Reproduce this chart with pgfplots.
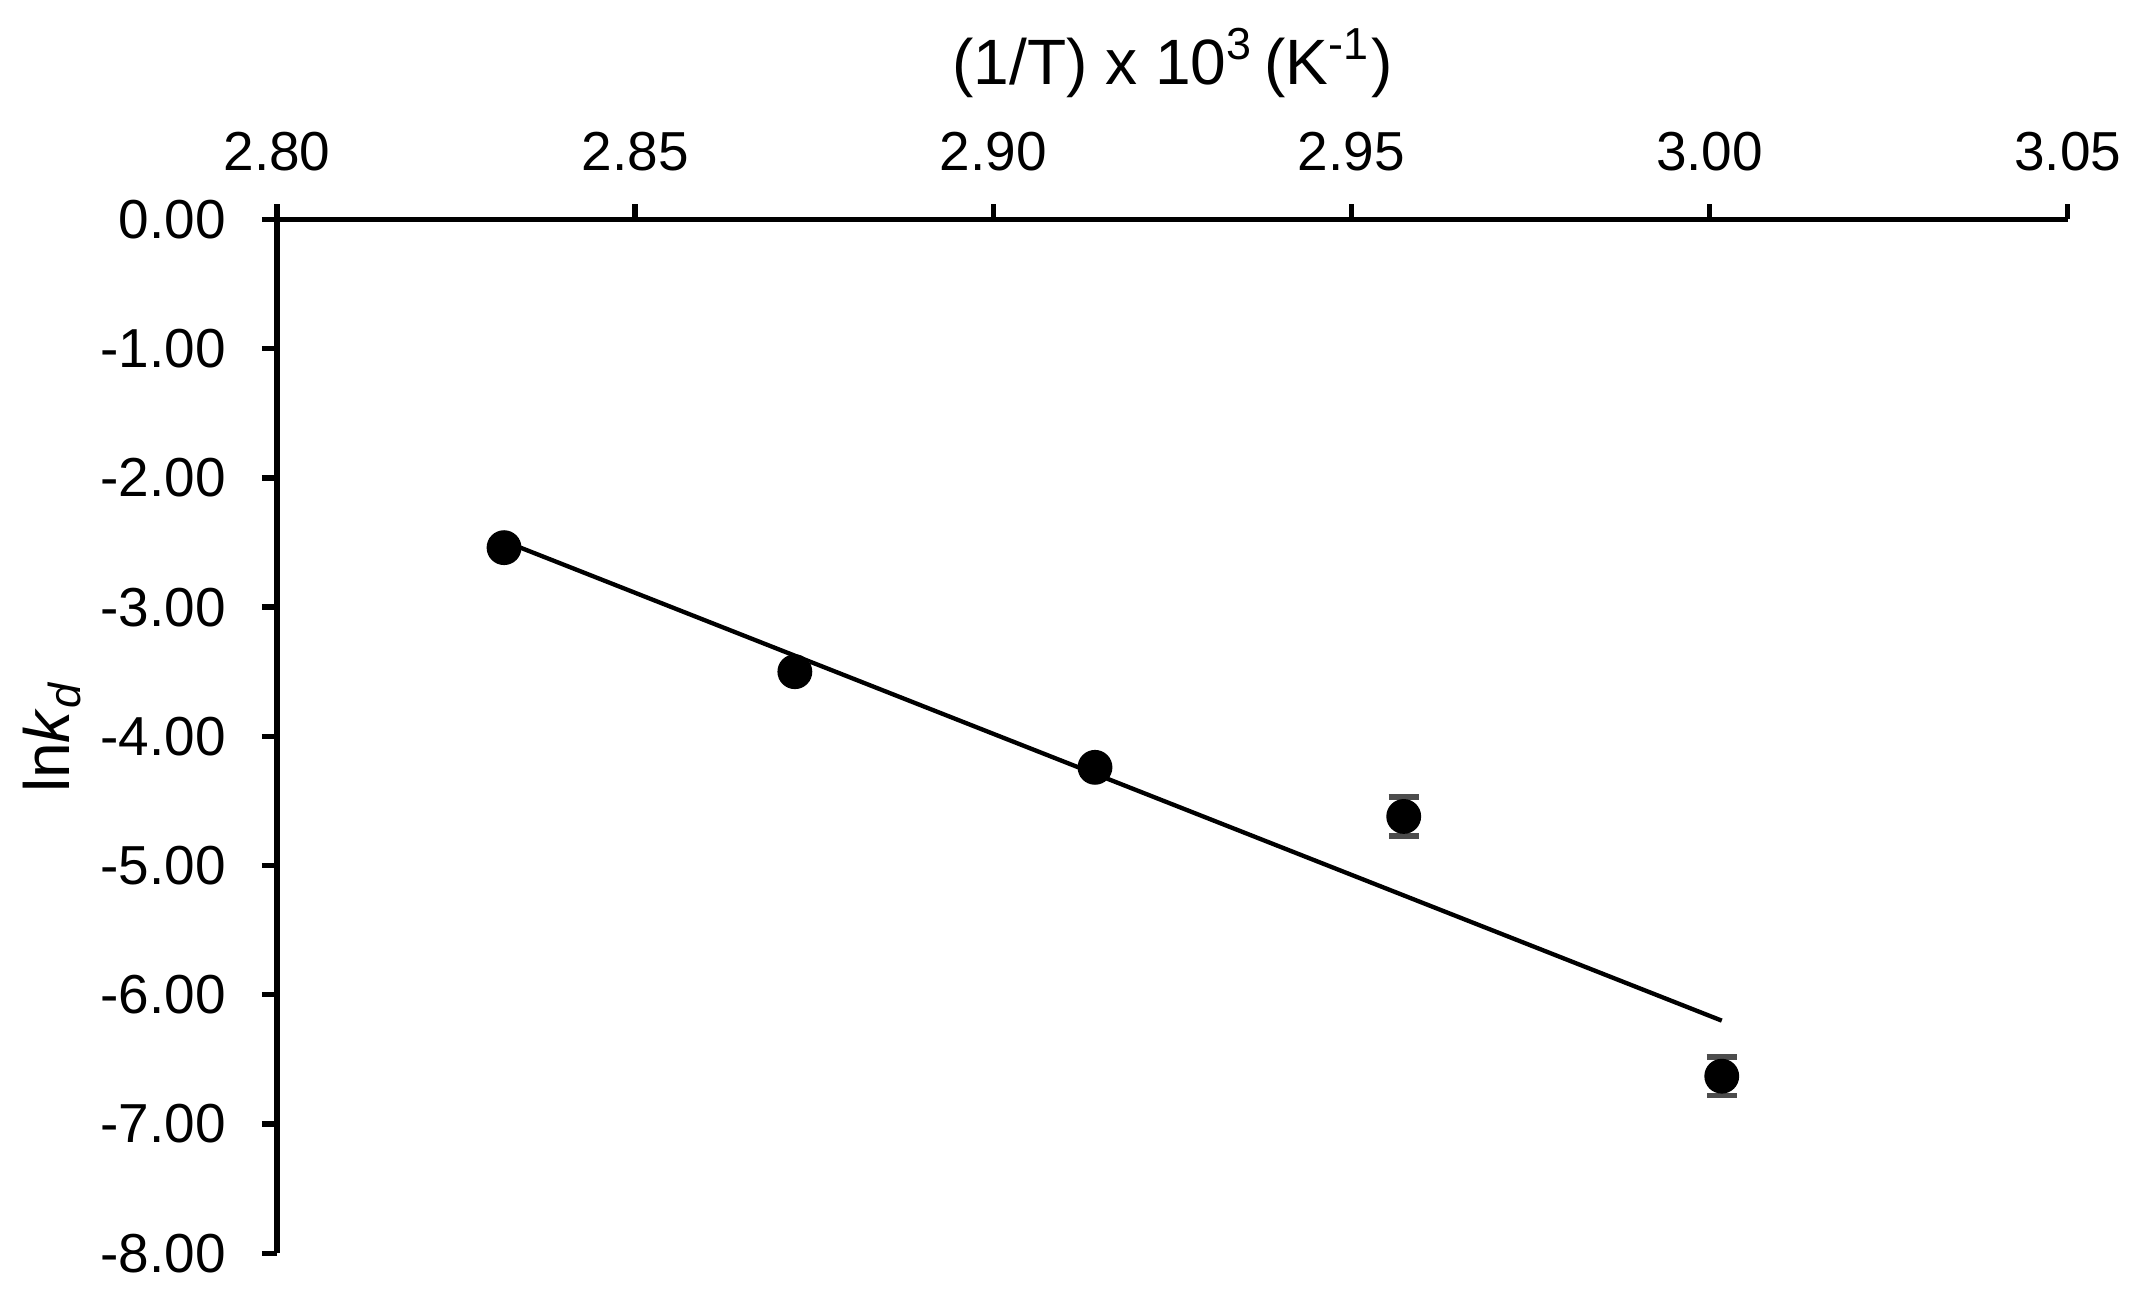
\documentclass[border=0pt]{standalone}
\usepackage{fontspec}
\setmainfont{Liberation Sans}
\usepackage{pgfplots}
\pgfplotsset{compat=1.18}
\begin{document}
\begin{tikzpicture}
\begin{axis}[
  at={(0,0)}, anchor=south west,
  scale only axis,
  width=13.06cm, height=7.54cm,
  xmin=2.80, xmax=3.05, ymin=-8, ymax=0,
  axis x line*=top, axis y line*=left,
  axis line style={line width=1.1pt},
  tick align=outside,
  major tick length=0.11cm,
  every tick/.style={black, line width=1.1pt},
  xtick={2.80,2.85,2.90,2.95,3.00,3.05},
  ytick={-8,-7,-6,-5,-4,-3,-2,-1,0},
  /pgf/number format/assume math mode=true,
  xticklabel style={yshift=0.12cm, /pgf/number format/.cd, fixed, fixed zerofill, precision=2},
  yticklabel style={xshift=-0.14cm, /pgf/number format/.cd, fixed, fixed zerofill, precision=2},
  tick label style={font=\fontsize{11.4}{13}\selectfont},
  label style={font=\fontsize{13.3}{15}\selectfont},
  xlabel={(1/T) x 10\textsuperscript{3}\,(K\textsuperscript{-1})},
  xlabel style={at={(axis description cs:0.5,1.151)}, anchor=center},
  ylabel={ln\textit{k}\textsubscript{\textit{d}}},
  ylabel style={at={(axis description cs:-0.1256,0.5)}, anchor=center},
  clip=false,
]
\addplot[black, line width=0.9pt, no marks] coordinates {
  (2.8317,-2.49) (3.0017,-6.20)
};
\addplot[
  only marks, mark=*, mark size=0.12cm, black,
  error bars/.cd, y dir=both, y explicit,
  error bar style={line width=1.2pt, color=black!70},
  error mark options={rotate=90, mark size=0.11cm, line width=1.2pt, color=black!70},
] coordinates {
  (2.8317,-2.54) +- (0,0.05)
  (2.8723,-3.50) +- (0,0.05)
  (2.9142,-4.24) +- (0,0.05)
  (2.9573,-4.62) +- (0,0.15)
  (3.0017,-6.63) +- (0,0.15)
};
\end{axis}
\pgfresetboundingbox
\path (-2.02,-0.36) rectangle (13.66,9.14);
\end{tikzpicture}
\end{document}
